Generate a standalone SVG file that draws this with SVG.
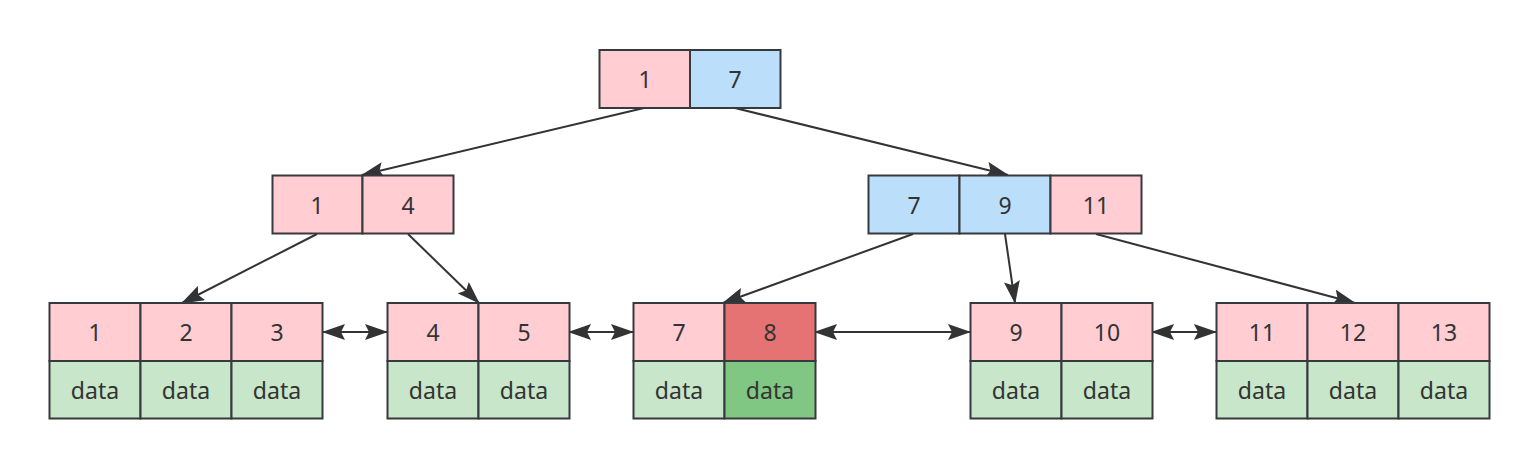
<svg xmlns="http://www.w3.org/2000/svg" width="1540" height="468" viewBox="0 0 1540 468">
<defs>
<style>
rect{stroke:#36393d;stroke-width:2}
.p{fill:#ffcdd2}.b{fill:#bbdefb}.r{fill:#e57373}.g{fill:#c8e6c9}.dg{fill:#81c784}
text{font-family:"Noto Sans","Open Sans",sans-serif;font-size:23px;fill:#333333;text-anchor:middle;dominant-baseline:central}
.c line{stroke:#333333;stroke-width:2;fill:none}
</style>
<marker id="ah" markerUnits="userSpaceOnUse" viewBox="0 0 23 16" refX="22" refY="8" markerWidth="23" markerHeight="16" orient="auto-start-reverse">
<path d="M0,0 L23,8 L0,16 L4,8 z" fill="#333333"/>
</marker>
</defs>
<rect width="1540" height="468" fill="#ffffff" style="stroke:none"/>
<g id="connectors" class="c">
<line x1="644" y1="108" x2="362" y2="175" marker-end="url(#ah)"/>
<line x1="735" y1="108" x2="1008" y2="175" marker-end="url(#ah)"/>
<line x1="317" y1="234" x2="182" y2="303" marker-end="url(#ah)"/>
<line x1="408" y1="234" x2="479" y2="303" marker-end="url(#ah)"/>
<line x1="913" y1="234" x2="723" y2="303" marker-end="url(#ah)"/>
<line x1="1005" y1="234" x2="1015" y2="303" marker-end="url(#ah)"/>
<line x1="1096" y1="234" x2="1355" y2="303" marker-end="url(#ah)"/>
<line x1="323" y1="332" x2="387" y2="332" marker-start="url(#ah)" marker-end="url(#ah)"/>
<line x1="569" y1="332" x2="633" y2="332" marker-start="url(#ah)" marker-end="url(#ah)"/>
<line x1="815" y1="332" x2="970" y2="332" marker-start="url(#ah)" marker-end="url(#ah)"/>
<line x1="1152" y1="332" x2="1216" y2="332" marker-start="url(#ah)" marker-end="url(#ah)"/>
</g>
<g id="root">
<rect class="p" x="599.5" y="50" width="90.5" height="58"/><text x="645" y="79">1</text>
<rect class="b" x="690" y="50" width="90.5" height="58"/><text x="735" y="79">7</text>
</g>
<g id="inner-left">
<rect class="p" x="272.5" y="175.5" width="90" height="58"/><text x="317" y="204.5">1</text>
<rect class="p" x="362.5" y="175.5" width="91" height="58"/><text x="408" y="204.5">4</text>
</g>
<g id="inner-right">
<rect class="b" x="868.5" y="175.5" width="91" height="58"/><text x="914" y="204.5">7</text>
<rect class="b" x="959.5" y="175.5" width="91" height="58"/><text x="1005" y="204.5">9</text>
<rect class="p" x="1050.5" y="175.5" width="91" height="58"/><text x="1096" y="204.5">11</text>
</g>
<g id="leaf1">
<rect class="p" x="49.5" y="303" width="91" height="58"/><text x="95" y="332">1</text>
<rect class="p" x="140.5" y="303" width="91" height="58"/><text x="186" y="332">2</text>
<rect class="p" x="231.5" y="303" width="91" height="58"/><text x="277" y="332">3</text>
<rect class="g" x="49.5" y="361" width="91" height="57.5"/><text x="95" y="389.5">data</text>
<rect class="g" x="140.5" y="361" width="91" height="57.5"/><text x="186" y="389.5">data</text>
<rect class="g" x="231.5" y="361" width="91" height="57.5"/><text x="277" y="389.5">data</text>
</g>
<g id="leaf2">
<rect class="p" x="387.5" y="303" width="91" height="58"/><text x="433" y="332">4</text>
<rect class="p" x="478.5" y="303" width="91" height="58"/><text x="524" y="332">5</text>
<rect class="g" x="387.5" y="361" width="91" height="57.5"/><text x="433" y="389.5">data</text>
<rect class="g" x="478.5" y="361" width="91" height="57.5"/><text x="524" y="389.5">data</text>
</g>
<g id="leaf3">
<rect class="p" x="633.5" y="303" width="91" height="58"/><text x="679" y="332">7</text>
<rect class="r" x="724.5" y="303" width="91" height="58"/><text x="770" y="332">8</text>
<rect class="g" x="633.5" y="361" width="91" height="57.5"/><text x="679" y="389.5">data</text>
<rect class="dg" x="724.5" y="361" width="91" height="57.5"/><text x="770" y="389.5">data</text>
</g>
<g id="leaf4">
<rect class="p" x="970.5" y="303" width="91" height="58"/><text x="1016" y="332">9</text>
<rect class="p" x="1061.5" y="303" width="91" height="58"/><text x="1107" y="332">10</text>
<rect class="g" x="970.5" y="361" width="91" height="57.5"/><text x="1016" y="389.5">data</text>
<rect class="g" x="1061.5" y="361" width="91" height="57.5"/><text x="1107" y="389.5">data</text>
</g>
<g id="leaf5">
<rect class="p" x="1216.5" y="303" width="91" height="58"/><text x="1262" y="332">11</text>
<rect class="p" x="1307.5" y="303" width="91" height="58"/><text x="1353" y="332">12</text>
<rect class="p" x="1398.5" y="303" width="91" height="58"/><text x="1444" y="332">13</text>
<rect class="g" x="1216.5" y="361" width="91" height="57.5"/><text x="1262" y="389.5">data</text>
<rect class="g" x="1307.5" y="361" width="91" height="57.5"/><text x="1353" y="389.5">data</text>
<rect class="g" x="1398.5" y="361" width="91" height="57.5"/><text x="1444" y="389.5">data</text>
</g>
</svg>
